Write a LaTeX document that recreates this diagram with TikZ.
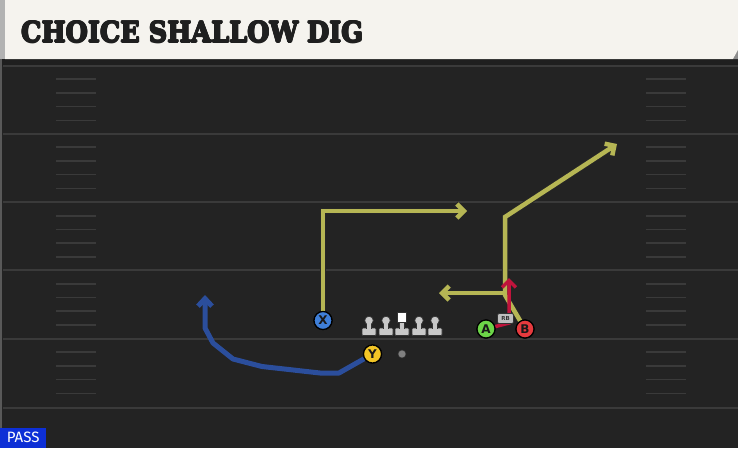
\documentclass[tikz,border=0pt]{standalone}
\usepackage{fontspec}
\usepackage{graphicx}
\usetikzlibrary{arrows.meta}
\newfontfamily\titlefont{DejaVu Serif}
\newfontfamily\plfont{DejaVu Sans}
\newfontfamily\passfont{Fira Sans}
\definecolor{field}{HTML}{232323}
\definecolor{hdr}{HTML}{F5F3EE}
\definecolor{yline}{HTML}{3A3A3A}
\definecolor{ylw}{HTML}{B6B654}
\definecolor{rred}{HTML}{C0143C}
\definecolor{rblue}{HTML}{2B4E9C}
\definecolor{cx}{HTML}{3F7FD8}
\definecolor{cy}{HTML}{F2C526}
\definecolor{ca}{HTML}{6CD448}
\definecolor{cb}{HTML}{E63A3E}
\definecolor{passblue}{HTML}{0D2FD6}
\definecolor{lm}{HTML}{C8C8C8}
\tikzset{
  player/.style={circle,draw=black,line width=1.2pt,minimum size=18pt,inner sep=0pt,
    font=\plfont\bfseries\fontsize{12}{12}\selectfont,text=black!90},
  outl/.style={draw=black!85,line width=6.5pt},
  yroute/.style={draw=ylw,line width=4.5pt},
  rroute/.style={draw=rred,line width=3.5pt},
  broute/.style={draw=rblue,line width=5pt,line join=round},
  tip/.style={-{Straight Barb[length=7pt,width=14pt]}},
  btip/.style={-{Straight Barb[length=7.5pt,width=14pt]}},
  hashm/.style={draw=yline,line width=1.6pt},
  yard/.style={draw=yline,line width=2pt},
  ttl/.style={anchor=south west,inner sep=0pt,text=black!88},
}
\newcommand{\titletext}{\resizebox{342pt}{21pt}{\titlefont\bfseries CHOICE SHALLOW DIG}}
\begin{document}
\begin{tikzpicture}[x=1pt,y=-1pt]
\useasboundingbox (0,0) rectangle (738,448);
% field
\fill[field] (0,0) rectangle (738,448);
\fill[black!88] (0,59) rectangle (738,66);
\draw[draw=black!65,line width=1.5pt] (1,59) -- (1,448);
% yard lines
\foreach \yy in {65.5,133.5,202,270,338.5,407.5}{
  \draw[yard] (3,\yy) -- (738,\yy);
}
% hash marks
\foreach \yy in {65.5,133.5,202,270,338.5}{
  \foreach \k in {1,2,3,4}{
    \draw[hashm] (56,\yy+\k*13.7) -- (96,\yy+\k*13.7);
    \draw[hashm] (646,\yy+\k*13.7) -- (686,\yy+\k*13.7);
  }
}
% header
\fill[black!45] (733,59) -- (738,50) -- (738,59) -- cycle;
\fill[hdr] (5,0) -- (738,0) -- (738,50) -- (733,59) -- (5,59) -- cycle;
\fill[black!30] (0,0) rectangle (5,59);
\foreach \dx/\dy in {-0.7/0,0.7/0,0/-0.7,0/0.7,-0.5/-0.5,0.5/0.5,-0.5/0.5,0.5/-0.5}{
  \node[ttl] at (21+\dx,43+\dy) {\titletext};
}
\node[ttl] (title) at (21,43) {\titletext};
% PASS label
\node[fill=passblue,anchor=south west,inner sep=0pt,minimum width=46pt,minimum height=20pt,
  text=white,font=\passfont\fontsize{15}{15}\selectfont] (pass) at (0,448) {PASS};
% players
\node[player,fill=cx] (X) at (323,320.5) {X};
\node[player,fill=cy] (Y) at (372.5,354) {Y};
\node[player,fill=ca] (A) at (486,329) {A};
\node[player,fill=cb] (B) at (525,329) {B};
% route waypoints
\coordinate (x1) at (323,211);
\coordinate (x2) at (467,211);
\coordinate (b1) at (505,295);
\coordinate (b2) at (505,217);
\coordinate (b3) at (617,144);
\coordinate (c0) at (505,293);
\coordinate (c1) at (439,293);
\coordinate (r0) at (509,323);
\coordinate (r1) at (509,278);
\coordinate (y1) at (339,373);
\coordinate (y2) at (320,373);
\coordinate (y3) at (262,366.5);
\coordinate (y4) at (233,359);
\coordinate (y5) at (213,343);
\coordinate (y6) at (205,328);
\coordinate (y7) at (205,295);
% outlines
\draw[outl,tip] (X) -- (x1) -- (x2);
\draw[outl,tip] (B) -- (b1) -- (b2) -- (b3);
\draw[outl,tip] (c0) -- (c1);
% routes
\draw[yroute,tip] (X) -- (x1) -- (x2);
\draw[yroute,tip] (B) -- (b1) -- (b2) -- (b3);
\draw[yroute,tip] (c0) -- (c1);
\draw[rroute,tip] (A) -- (r0) -- (r1);
\draw[broute,btip] (Y) -- (y1) -- (y2) -- (y3) -- (y4) -- (y5) -- (y6) -- (y7);
% players on top again
\node[player,fill=cx] at (X) {X};
\node[player,fill=cy] at (Y) {Y};
\node[player,fill=ca] at (A) {A};
\node[player,fill=cb] at (B) {B};
% RB tag
\node[fill=black!25,draw=black!80,line width=0.6pt,rounded corners=2pt,minimum width=16pt,minimum height=10pt,
  inner sep=0pt,font=\plfont\bfseries\fontsize{5.5}{5.5}\selectfont,text=black!80] (rb) at (505.5,318.5) {RB};
% linemen
\foreach \xx/\nm in {369/l1,386/l2,419/l4,435/l5}{
  \fill[lm,draw=black!80,line width=0.6pt,rounded corners=1pt] (\xx-7,328) rectangle (\xx+7,335.5);
  \fill[lm,draw=black!80,line width=0.6pt] (\xx-2.7,321) rectangle (\xx+2.7,328.5);
  \node[circle,fill=lm,draw=black!80,line width=0.6pt,minimum size=8.5pt,inner sep=0pt] (\nm) at (\xx,320.5) {};
  \fill[lm] (\xx-2.1,321) rectangle (\xx+2.1,328.8);
}
\fill[lm,draw=black!80,line width=0.6pt,rounded corners=1pt] (395,328) rectangle (409,335.5);
\fill[lm,draw=black!80,line width=0.6pt] (399.3,321) rectangle (404.7,328.5);
\fill[lm] (399.9,322) rectangle (404.1,328.8);
\node[fill=white,draw=black!80,line width=0.6pt,minimum size=9.5pt,inner sep=0pt] (l3) at (402,317.5) {};
% ball
\node[circle,fill=black!50,draw=black!80,line width=0.5pt,minimum size=8pt,inner sep=0pt] (ball) at (402,354) {};
\end{tikzpicture}
\end{document}
